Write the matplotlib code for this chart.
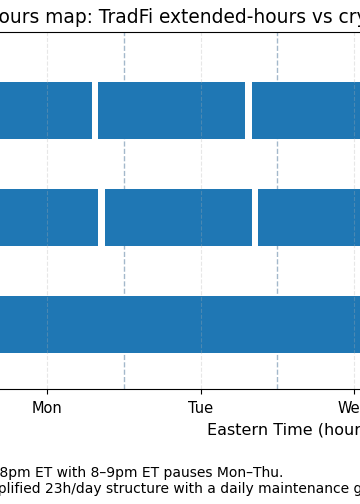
import matplotlib
matplotlib.use("Agg")
import matplotlib.pyplot as plt
from matplotlib.transforms import IdentityTransform

# ---- data (hours since Sunday 00:00 ET) ----
days = ["Sun", "Mon", "Tue", "Wed", "Thu", "Fri", "Sat"]
day_noon_hours = [12, 36, 60, 84, 108, 132, 156]
midnight_hours = [24, 48, 72, 96, 120, 144]

rows = ["Crypto spot (24/7)", "TradFi extended hours", "Crypto derivatives (23h/day)"]
row_bottoms = [1, 4, 7]
row_height = 1.6

crypto_spot = [(0, 168)]
tradfi_ext = [(20, 44), (45, 68), (69, 92), (93, 116), (117, 140)]
crypto_deriv = [(0, 19), (20, 43), (44, 67), (68, 91), (92, 115), (116, 139), (140, 163), (164, 168)]
segments = [crypto_spot, tradfi_ext, crypto_deriv]

title = "Trading hours map: TradFi extended-hours vs crypto (one illustrative week)"
xlabel = "Eastern Time (hours since Sunday 00:00, illustrative)"
note1 = "Note: TradFi extended hours approximated as Sun 8pm\u2013Fri 8pm ET with 8\u20139pm ET pauses Mon\u2013Thu."
note2 = "Crypto derivatives use a simplified 23h/day structure with a daily maintenance gap; spot trades 24/7."

# ---- figure ----
W, H, DPI = 360, 504, 100
fig = plt.figure(figsize=(W / DPI, H / DPI), dpi=DPI)

ax_left_px, ax_right_px = -182.7, 890.6
ax_top_px, ax_bottom_px = 32, 389
ax = fig.add_axes([ax_left_px / W, (H - ax_bottom_px) / H,
                   (ax_right_px - ax_left_px) / W, (ax_bottom_px - ax_top_px) / H])

for m in midnight_hours:
    ax.axvline(m, color="#7d9ab5", linestyle="--", linewidth=1.0, alpha=0.7, zorder=0)

for segs, y0 in zip(segments, row_bottoms):
    ax.broken_barh([(a, b - a) for a, b in segs], (y0, row_height), facecolors="#1f77b4")

ax.set_xlim(0, 168)
ax.set_ylim(0, 10)
ax.set_xticks(day_noon_hours)
ax.set_xticklabels(days, fontsize=10.5)
ax.tick_params(axis="x", pad=5)
ax.set_yticks([b + row_height / 2 for b in row_bottoms])
ax.set_yticklabels(rows, fontsize=10)
ax.grid(axis="x", linestyle="--", alpha=0.3)

renderer = fig.canvas.get_renderer()


def place(full, prefix, x_px, y_px, size):
    t = fig.text(0, 0, prefix + "|", fontsize=size, transform=IdentityTransform())
    w1 = t.get_window_extent(renderer).width
    t.set_text("|")
    w2 = t.get_window_extent(renderer).width
    t.remove()
    fig.text(x_px - (w1 - w2), H - y_px, full, fontsize=size, ha="left", va="baseline",
             transform=IdentityTransform())


place(title, "Trading h", -1.5, 23, 13.4)
place(xlabel, "", 207, 435, 11.5)
place(note1, "Note: TradFi extended hours approximated as Sun 8pm\u2013Fri ", -1, 477, 10)
place(note2, "Crypto derivatives use a sim", -2, 493, 10)

fig.savefig("out.png", dpi=DPI)
